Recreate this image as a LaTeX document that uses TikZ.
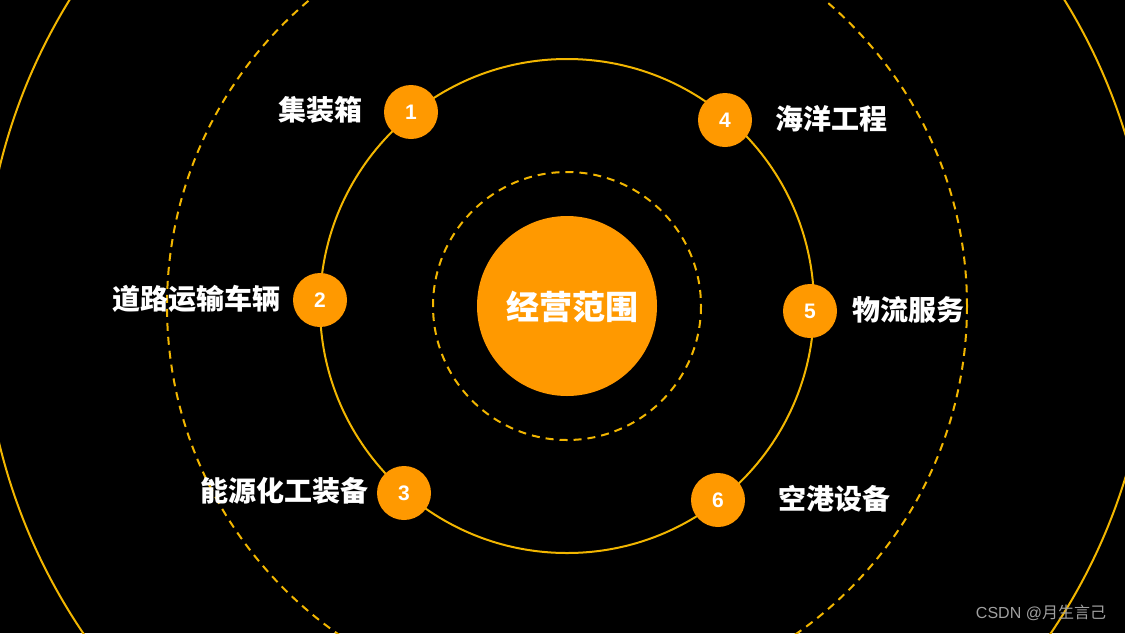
\documentclass[tikz,border=0pt]{standalone}
\usepackage{fontspec}
\setmainfont{Liberation Sans}
\newfontfamily\numfont{Liberation Sans Bold}
\newfontfamily\cjk{Noto Sans CJK SC}
\usetikzlibrary{calc}

\definecolor{ringgold}{RGB}{242,182,0}
\definecolor{dotorange}{RGB}{255,153,0}
\definecolor{markgray}{RGB}{160,160,160}

\tikzset{
  ring/.style={draw=ringgold, line width=2pt},
  dashring/.style={ring, dash pattern=on 8pt off 6pt},
  numdot/.style={circle, fill=dotorange, minimum size=54pt, inner sep=0pt,
    text=white, font=\numfont\fontsize{21}{23}\selectfont},
  itemtext/.style={text=white, inner sep=0pt, font=\cjk\bfseries\fontsize{28}{30}\selectfont}
}

\begin{document}
\begin{tikzpicture}[x=1pt, y=-1pt]
  % page and background, in pixel units (y grows downwards)
  \useasboundingbox (0,0) rectangle (1125,633);
  \fill[black] (0,0) rectangle (1125,633);
  \clip (0,0) rectangle (1125,633);
  \coordinate (o) at (567,306);
  % rings round the centre
  \draw[ring] (o) circle[radius=584];
  \draw[dashring] (o) circle[radius=400];
  \draw[ring] (o) circle[radius=247];
  \draw[dashring] (o) circle[radius=134];
  % centre disc
  \node[circle, fill=dotorange, minimum size=180pt, inner sep=0pt] (hub) at (o) {};
  \node[itemtext, font=\cjk\bfseries\fontsize{33}{35}\selectfont] (hubtext) at (572,307) {经营范围};
  % numbered dots on the middle ring
  \node[numdot] (n1) at (411,112) {1};
  \node[numdot] (n2) at (320,300) {2};
  \node[numdot] (n3) at (404,493) {3};
  \node[numdot] (n4) at (725,120) {4};
  \node[numdot] (n5) at (810,311) {5};
  \node[numdot] (n6) at (718,500) {6};
  % item labels
  \node[itemtext] (t1) at (320,110) {集装箱};
  \node[itemtext] (t2) at (196,299) {道路运输车辆};
  \node[itemtext] (t3) at (284,491) {能源化工装备};
  \node[itemtext] (t4) at (831,119) {海洋工程};
  \node[itemtext] (t5) at (908,310) {物流服务};
  \node[itemtext] (t6) at (834,499) {空港设备};
  % watermark
  \node[text=markgray, inner sep=0pt, font=\fontsize{16}{18}\selectfont] (mark) at (1041,613) {CSDN @{\cjk 月生言己}};
\end{tikzpicture}
\end{document}
